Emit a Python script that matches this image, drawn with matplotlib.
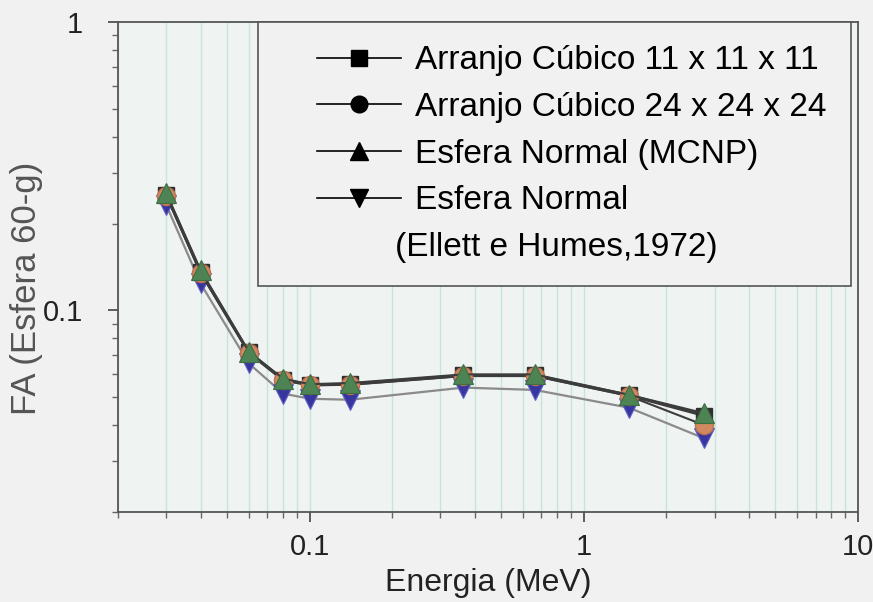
import matplotlib
matplotlib.use("Agg")
import matplotlib.pyplot as plt
from matplotlib.lines import Line2D
from matplotlib.legend_handler import HandlerLine2D
from matplotlib.ticker import LogLocator, NullFormatter, FixedLocator, FixedFormatter

plt.rcParams['font.family'] = ['Liberation Sans', 'DejaVu Sans']

energia = [0.03, 0.04, 0.06, 0.08, 0.1, 0.14, 0.364, 0.662, 1.46, 2.75]
cubico_11 = [0.252, 0.136, 0.0715, 0.0575, 0.0552, 0.0555, 0.0595, 0.0595, 0.0508, 0.0432]
cubico_24 = [0.250, 0.135, 0.0712, 0.0572, 0.0550, 0.0552, 0.0592, 0.0592, 0.0505, 0.040]
esfera_mcnp = [0.255, 0.138, 0.072, 0.058, 0.0555, 0.056, 0.060, 0.060, 0.051, 0.044]
esfera_ellett = [0.232, 0.124, 0.0655, 0.0515, 0.0494, 0.049, 0.054, 0.053, 0.046, 0.036]

labels = ["Arranjo Cúbico 11 x 11 x 11", "Arranjo Cúbico 24 x 24 x 24",
          "Esfera Normal (MCNP)", "Esfera Normal", "(Ellett e Humes,1972)"]
xticks = [0.1, 1, 10]
xticklabels = ["0.1", "1", "10"]
yticks = [0.1, 1]
yticklabels = ["0.1", "1"]


class ShiftedHandler(HandlerLine2D):
    def __init__(self, shift=0, **kw):
        super().__init__(**kw)
        self.shift = shift

    def create_artists(self, legend, orig_handle, xdescent, ydescent, width,
                       height, fontsize, trans):
        return super().create_artists(legend, orig_handle, xdescent - self.shift,
                                      ydescent, width - self.shift, height,
                                      fontsize, trans)


fig = plt.figure(figsize=(8.73, 6.02), dpi=100, facecolor="#f1f1f1")
ax = fig.add_axes([118/873, 90/602, 740/873, 490/602])
ax.set_facecolor("#eff3f1")
ax.set_xscale("log")
ax.set_yscale("log")
ax.set_xlim(0.02, 10)
ax.set_ylim(0.02, 1)

ax.xaxis.set_minor_locator(LogLocator(base=10, subs=range(2, 10)))
ax.grid(True, which="both", axis="x", color="#c6e4d9", linewidth=1.0)
ax.set_axisbelow(True)

ax.plot(energia, esfera_ellett, color="#8a8a8a", lw=1.6, marker="v", ms=14,
        mfc="#36369e", mec="#6060c8", mew=0.8, zorder=3)
ax.plot(energia, cubico_11, color="#3c3c3c", lw=2.2, marker="s", ms=12,
        mfc="#303030", mec="#303030", zorder=4)
ax.plot(energia, cubico_24, color="#3c3c3c", lw=1.5, marker="o", ms=13,
        mfc="#d08a60", mec="#c07050", zorder=4)
ax.plot(energia, esfera_mcnp, color="#3c3c3c", lw=1.5, marker="^", ms=14,
        mfc="#4e8454", mec="#3d6e44", mew=0.8, zorder=5)

ax.xaxis.set_major_locator(FixedLocator(xticks))
ax.xaxis.set_major_formatter(FixedFormatter(xticklabels))
ax.xaxis.set_minor_formatter(NullFormatter())
ax.yaxis.set_major_locator(FixedLocator(yticks))
ax.yaxis.set_major_formatter(FixedFormatter(yticklabels))
ax.yaxis.set_minor_locator(LogLocator(base=10, subs=range(2, 10)))
ax.yaxis.set_minor_formatter(NullFormatter())
ax.tick_params(which="major", length=7, width=1.2, color="#444444", labelsize=21, labelcolor="#222222")
ax.tick_params(which="minor", length=4, width=1.0, color="#666666")
ax.tick_params(axis="x", pad=8)
ax.tick_params(axis="y", pad=18)

for s in ax.spines.values():
    s.set_color("#555555")
    s.set_linewidth(1.3)

ax.set_xlabel("Energia (MeV)", fontsize=23, color="#222222", labelpad=5)
ax.set_ylabel("FA (Esfera 60-g)", fontsize=25, color="#555555")
ax.yaxis.set_label_coords(-0.102, 0.457)

handles = [
    Line2D([], [], color="black", lw=1.2, marker="s", ms=11, mfc="black", mec="black"),
    Line2D([], [], color="black", lw=1.2, marker="o", ms=12, mfc="black", mec="black"),
    Line2D([], [], color="black", lw=1.2, marker="^", ms=13, mfc="black", mec="black"),
    Line2D([], [], color="black", lw=1.2, marker="v", ms=13, mfc="black", mec="black"),
    Line2D([], [], color="none", lw=0),
]
x0 = (258 - 118) / 740
x1 = (851 - 118) / 740
leg = ax.legend(handles, labels, loc="upper left", bbox_to_anchor=(x0, 1.0, x1 - x0, 0.0),
                mode="expand", fontsize=24, frameon=True, fancybox=False, framealpha=1,
                facecolor="#f0f1f0", edgecolor="#555555", borderpad=0.7,
                labelspacing=0.47, handlelength=3.6, handletextpad=0.4,
                borderaxespad=0.0,
                handler_map={Line2D: ShiftedHandler(shift=26)})
leg.get_frame().set_linewidth(1.2)
leg.get_texts()[4].set_x(-20)

fig.savefig("out.png", dpi=100, facecolor=fig.get_facecolor())
